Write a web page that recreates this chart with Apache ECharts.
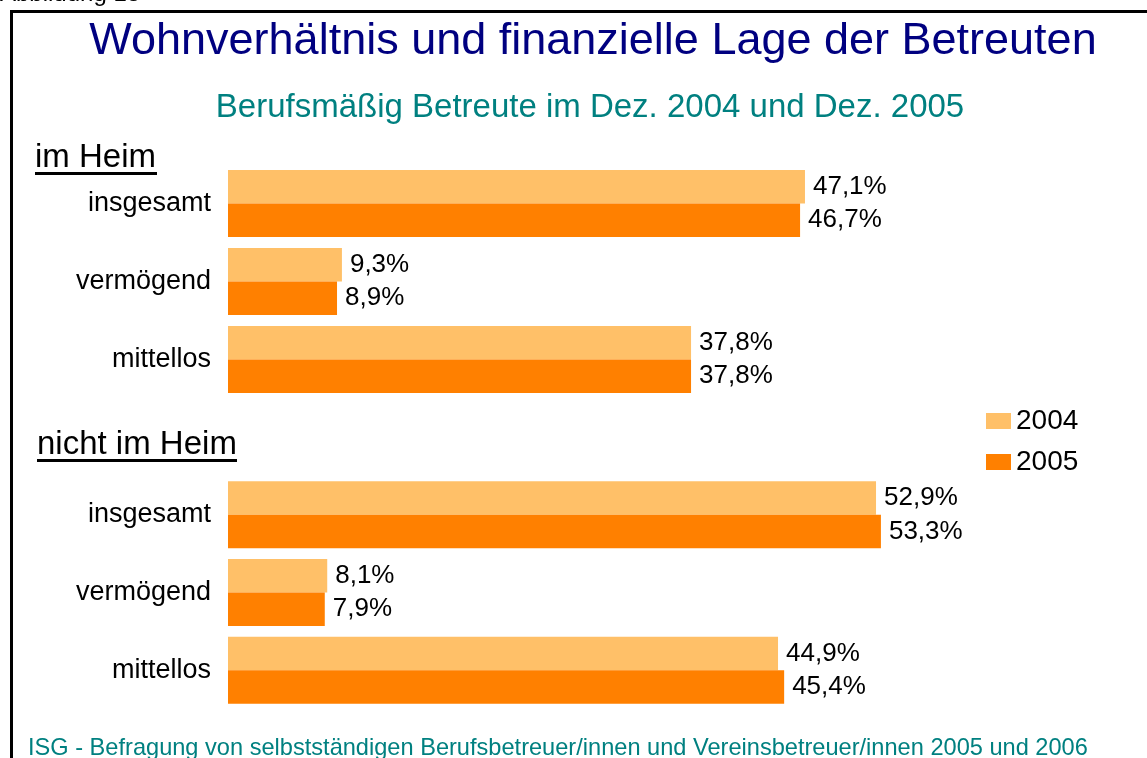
<!DOCTYPE html>
<html>
<head>
<meta charset="UTF-8">
<title>Wohnverhältnis und finanzielle Lage der Betreuten</title>
<script src="https://cdn.jsdelivr.net/npm/echarts@6/dist/echarts.min.js"></script>
<style>
    body, html { margin: 0; padding: 0; background: #fff; }
    #chart { width: 1147px; height: 758px; }
</style>
</head>
<body>
<div id="chart"></div>
<script type="text/javascript">
    // Daten
    var categories = ['insgesamt', 'vermögend', 'mittellos'];
    var years = ['2004', '2005'];
    var groupTitles = ['im Heim', 'nicht im Heim'];
    var heim2004 = [47.1, 9.3, 37.8];
    var heim2005 = [46.7, 8.9, 37.8];
    var nichtHeim2004 = [52.9, 8.1, 44.9];
    var nichtHeim2005 = [53.3, 7.9, 45.4];

    var FONT = '"Liberation Sans", Arial, sans-serif';
    var colors = ['#FFC068', '#FF8000'];

    var chart = echarts.init(document.getElementById('chart'));

    function pct(p) {
        return p.value.toFixed(1).replace('.', ',') + '%';
    }

    function barSeries(name, data, idx, color) {
        return {
            name: name,
            type: 'bar',
            xAxisIndex: idx,
            yAxisIndex: idx,
            data: data,
            barWidth: 33.5,
            barGap: '0%',
            itemStyle: { color: color },
            label: {
                show: true,
                position: 'right',
                distance: 8,
                formatter: pct,
                fontFamily: FONT,
                fontSize: 26,
                color: '#000'
            }
        };
    }

    function catAxis(idx) {
        return {
            type: 'category',
            gridIndex: idx,
            data: categories,
            inverse: true,
            axisLine: { show: false },
            axisTick: { show: false },
            axisLabel: { fontFamily: FONT, fontSize: 27, color: '#000', margin: 17 }
        };
    }

    function valAxis(idx) {
        return {
            type: 'value',
            gridIndex: idx,
            min: 0,
            max: 60,
            show: false
        };
    }

    var option = {
        animation: false,
        color: colors,
        textStyle: { fontFamily: FONT },
        title: [
            {
                text: 'Wohnverhältnis und finanzielle Lage der Betreuten',
                left: 588, top: 14, textAlign: 'center',
                textStyle: { fontFamily: FONT, fontSize: 45, fontWeight: 'normal', color: '#000080' }
            },
            {
                text: 'Berufsmäßig Betreute im Dez. 2004 und Dez. 2005',
                left: 585, top: 86, textAlign: 'center',
                textStyle: { fontFamily: FONT, fontSize: 33, fontWeight: 'normal', color: '#008080' }
            }
        ],
        legend: {
            data: years,
            orient: 'vertical',
            left: 981,
            top: 402,
            itemWidth: 25,
            itemHeight: 16,
            itemGap: 13,
            icon: 'rect',
            textStyle: { fontFamily: FONT, fontSize: 28, color: '#000', lineHeight: 28 }
        },
        grid: [
            { left: 228, width: 735, top: 164.5, height: 234 },
            { left: 228, width: 735, top: 476, height: 233 }
        ],
        xAxis: [valAxis(0), valAxis(1)],
        yAxis: [catAxis(0), catAxis(1)],
        series: [
            barSeries(years[0], heim2004, 0, colors[0]),
            barSeries(years[1], heim2005, 0, colors[1]),
            barSeries(years[0], nichtHeim2004, 1, colors[0]),
            barSeries(years[1], nichtHeim2005, 1, colors[1])
        ],
        graphic: [
            // Rahmen
            { type: 'rect', shape: { x: 11.5, y: 11.5, width: 1200, height: 800 },
              style: { fill: 'none', stroke: '#000', lineWidth: 3 }, z: 0 },
            { type: 'text', style: { x: 0, y: 6, text: 'Abbildung 13', textVerticalAlign: 'bottom',
              font: '24px ' + FONT, fill: '#000' } },
            // Gruppentitel
            { type: 'text', style: { x: 35, y: 158, text: groupTitles[0], textVerticalAlign: 'middle',
              font: '33px ' + FONT, fill: '#000' } },
            { type: 'line', shape: { x1: 35, y1: 173.5, x2: 157, y2: 173.5 },
              style: { stroke: '#000', lineWidth: 3 } },
            { type: 'text', style: { x: 37, y: 445, text: groupTitles[1], textVerticalAlign: 'middle',
              font: '33px ' + FONT, fill: '#000' } },
            { type: 'line', shape: { x1: 37, y1: 460.5, x2: 237, y2: 460.5 },
              style: { stroke: '#000', lineWidth: 3 } },
            // Quelle
            { type: 'text', style: { x: 28, y: 748, text: 'ISG - Befragung von selbstständigen Berufsbetreuer/innen und Vereinsbetreuer/innen 2005 und 2006',
              textVerticalAlign: 'middle', font: '23.6px ' + FONT, fill: '#008080' } }
        ]
    };
    chart.setOption(option);
</script>
</body>
</html>
